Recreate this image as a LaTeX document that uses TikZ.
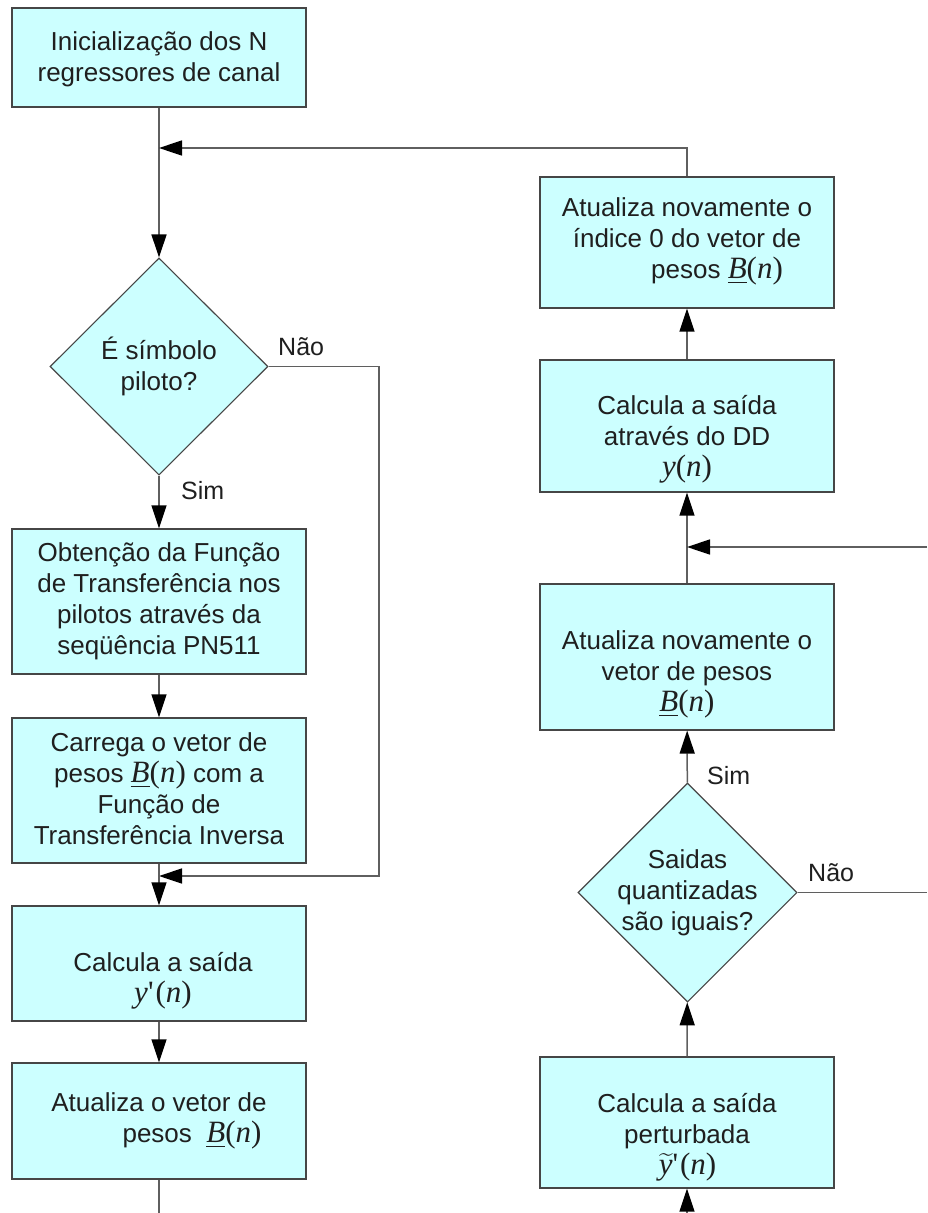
\documentclass[tikz,border=0pt]{standalone}
\usepackage{exscale}
\usepackage{fontspec}
\setmainfont{Liberation Sans}
\newfontfamily\tnr{Liberation Serif}
\usetikzlibrary{shapes.geometric,arrows.meta}
\definecolor{boxfill}{RGB}{204,255,255}
\definecolor{boxline}{RGB}{70,70,70}
\definecolor{conn}{RGB}{95,95,95}
\newcommand\mathB{{\fontsize{31}{31}\selectfont\tnr\underline{\textit{B}}(\textit{n})}}
\newcommand\mathy{{\fontsize{31}{31}\selectfont\tnr\textit{y}(\textit{n})}}
\newcommand\mathyp{{\fontsize{31}{31}\selectfont\tnr\textit{y}\textquotesingle\kern2pt(\textit{n})}}
\newcommand\mathyt{{\fontsize{31}{31}\selectfont\tnr\smash{$\widetilde{\hbox{\kern1pt\textit{y}\kern3pt}}$}\kern-3pt\textquotesingle\kern2pt(\textit{n})}}
\tikzset{
  box/.style={draw=boxline, fill=boxfill, line width=1.3pt, minimum width=294pt, inner sep=0pt},
  dia/.style={diamond, draw=boxline, fill=boxfill, line width=1.1pt, inner sep=0pt},
  txt/.style={align=center, inner sep=0pt, font=\fontsize{26}{31}\selectfont, text=black!88},
  lbl/.style={anchor=west, inner sep=0pt, font=\fontsize{25}{30}\selectfont, text=black!88},
  ln/.style={draw=conn, line width=1.5pt},
  arr/.style={ln, -{Triangle[length=23pt,width=15pt,color=black]}}
}
\begin{document}
\begin{tikzpicture}[x=1pt,y=-1pt]
\useasboundingbox (0,0) rectangle (927,1213);
% left column
\node[box, minimum height=99pt] (b1) at (159,57.5) {};
\node[txt] (t1) at (159,59) {Inicialização dos N\\regressores de canal};
\node[dia, minimum width=218pt, minimum height=217pt] (d1) at (159,366.5) {};
\node[txt] (t2) at (159,366) {É símbolo\\piloto?};
\node[box, minimum height=145pt] (b2) at (159,601.5) {};
\node[txt] (t3) at (159,601) {Obtenção da Função\\de Transferência nos\\pilotos através da\\seqüência PN511};
\node[box, minimum height=145pt] (b3) at (159,790.5) {};
\node[txt] (t4) at (159,789) {Carrega o vetor de\\pesos \mathB{} com a\\Função de\\Transferência Inversa};
\node[box, minimum height=115pt] (b4) at (159,963.5) {};
\node[txt] (t5) at (163,980.5) {Calcula a saída\\\mathyp};
\node[box, minimum height=116pt] (b5) at (159,1121) {};
\node[txt] (t6) at (159,1121) {Atualiza o vetor de\\\hspace*{66pt}pesos\ \ \mathB};
% right column
\node[box, minimum height=131pt] (r1) at (687,242.5) {};
\node[txt] (t7) at (687,241.5) {Atualiza novamente o\\índice 0 do vetor de\\\hspace*{60pt}pesos \mathB};
\node[box, minimum height=132pt] (r2) at (687,426) {};
\node[txt] (t8) at (687,439.5) {Calcula a saída\\através do DD\\\mathy};
\node[box, minimum height=146pt] (r3) at (687,657) {};
\node[txt] (t9) at (687,674.5) {Atualiza novamente o\\vetor de pesos\\\mathB};
\node[dia, minimum width=219pt, minimum height=219pt] (d2) at (687.5,892.5) {};
\node[txt] (t10) at (687.5,892.5) {Saidas\\quantizadas\\são iguais?};
\node[box, minimum height=131pt] (r4) at (687,1122.5) {};
\node[txt] (t11) at (687,1137.5) {Calcula a saída\\perturbada\\\mathyt};
% labels
\node[lbl] (s1) at (181,491) {Sim};
\node[lbl] (n1) at (278,347) {Não};
\node[lbl] (s2) at (707,776) {Sim};
\node[lbl] (n2) at (808,873) {Não};
% coordinates
\coordinate (j1) at (159,148);
\coordinate (k1) at (379,876);
\coordinate (j2) at (159,876);
\coordinate (e1) at (159,1213);
\coordinate (e2) at (687,1213);
\coordinate (j3) at (687,547);
\coordinate (e3) at (927,547);
\coordinate (e4) at (927,892.5);
% connectors
\draw[arr] (b1) -- (d1);
\draw[arr] (r1.north) |- (j1);
\draw[arr] (d1) -- (b2);
\draw[arr] (b2) -- (b3);
\draw[arr] (d1.east) -| (k1) -- (j2);
\draw[arr] (b3) -- (b4);
\draw[arr] (b4) -- (b5);
\draw[ln] (b5) -- (e1);
\draw[arr] (e2) -- (r4);
\draw[arr] (r4) -- (d2);
\draw[arr] (d2) -- (r3);
\draw[arr] (r3) -- (r2);
\draw[arr] (e3) -- (j3);
\draw[ln] (d2.east) -- (e4);
\draw[arr] (r2) -- (r1);
\end{tikzpicture}
\end{document}
